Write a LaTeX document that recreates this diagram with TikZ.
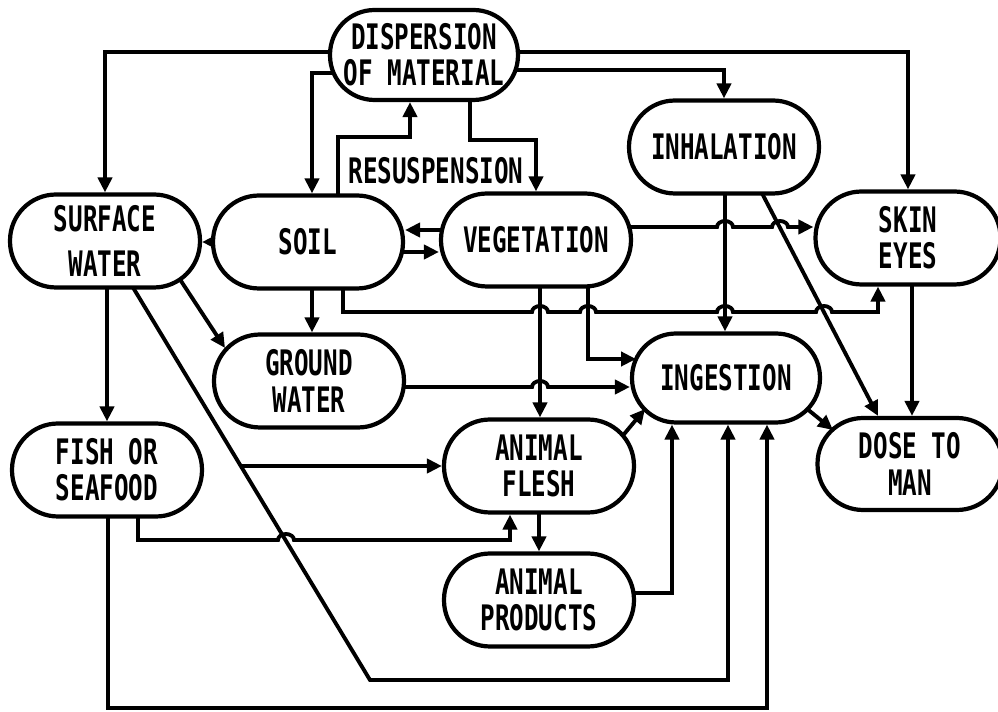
\documentclass[tikz,border=0pt]{standalone}
\usepackage{fontspec}
\usetikzlibrary{arrows.meta,calc}
\newfontfamily\chartfont{DejaVu Sans Mono}[FakeStretch=0.69]
\pgfdeclarelayer{bg}
\pgfsetlayers{bg,main}
\tikzset{stage/.style={draw,line width=2.4pt,rounded corners=0.92cm,fill=white,
  minimum width=3.8cm,minimum height=1.86cm,inner sep=0pt,align=center},
  link/.style={-{Triangle[length=8.5pt,width=8pt]},line width=2.2pt}}
\newcommand{\hop}[2]{-- (#1-8,#2) arc[start angle=180,end angle=0,x radius=0.16cm,y radius=0.12cm]}

\begin{document}
\begin{tikzpicture}[x=0.02cm,y=-0.02cm,font=\chartfont\bfseries\fontsize{20}{20.7}\selectfont]
\useasboundingbox (0,0) rectangle (998,712);
\node[stage,minimum width=3.76cm,minimum height=1.8cm,rounded corners=0.89cm] (disp) at (424,55) {DISPERSION\\OF MATERIAL};
\node[stage] (inh) at (724,147) {INHALATION};
\node[stage] (surf) at (105,241) {SURFACE\\[4.5pt]WATER};
\node[stage] (soil) at (308,242) {SOIL};
\node[stage] (veg) at (536,240) {VEGETATION};
\node[stage,minimum width=3.7cm] (skin) at (908,238) {SKIN\\EYES};
\node[stage] (gw) at (309,381) {GROUND\\WATER};
\node[stage,minimum width=3.76cm,minimum height=1.78cm,rounded corners=0.88cm] (ing) at (726,378) {INGESTION};
\node[stage] (fish) at (107,470) {FISH OR\\SEAFOOD};
\node[stage] (flesh) at (539,466) {ANIMAL\\FLESH};
\node[stage] (prod) at (539,600) {ANIMAL\\PRODUCTS};
\node[stage,minimum width=3.7cm,minimum height=1.84cm,rounded corners=0.91cm] (dose) at (910,464) {DOSE TO\\MAN};
\node (resus) at (436,171) {RESUSPENSION};
\coordinate (split) at (241,466);
\begin{pgfonlayer}{bg}
\fill[white] (0,0) rectangle (998,712);
\draw[link] (disp.center |- 0,52) -| (surf.north);
\draw[link] (disp.center |- 0,52) -| (skin.north);
\draw[link] (disp.center |- 0,73) -| (312,0 |- soil.north);
\draw[link] (disp.center |- 0,70) -| (inh.north);
\draw[link] (338,0 |- soil.center) -- (338,137) -| (410,0 |- disp.south);
\draw[link] (470,0 |- disp.center) -- (470,140) -| (veg.north);
\draw[link] (soil.center) -- (surf.east |- soil.center);
\draw[link] (veg.center |- 0,230) -- (soil.east |- 0,230);
\draw[link] (soil.center |- 0,252) -- (veg.west |- 0,252);
\draw[link] (312,0 |- soil.center) -- (312,0 |- gw.north);
\draw[link] (162,252) -- ($(gw)+(-84,-33)$);
\draw[link] (107,0 |- surf.center) -- (107,0 |- fish.north);
\draw[link] (114,256) -- (370,680) -| (728,0 |- ing.south);
\draw[link] (split) -- (flesh.west);
\draw[link] (138,0 |- fish.center) -- (138,540) \hop{286}{540} -| (510,0 |- flesh.south);
\draw[link] (108,0 |- fish.center) -- (108,708) -| (767,0 |- ing.south);
\draw[link] (540,0 |- veg.center) -- (540,0 |- flesh.north);
\draw[link] (588,0 |- veg.center) |- ($(ing)+(-90,-19)$);
\draw[link] (gw.center |- 0,387) \hop{540}{387} -- (ing.west |- 0,387);
\draw[link] (veg.center |- 0,227) \hop{725}{227} \hop{780}{227} -- (skin.west |- 0,227);
\draw[link] (343,0 |- soil.center) -- (343,312) \hop{540}{312} \hop{588}{312} \hop{725}{312} \hop{824}{312} -| (878,0 |- skin.south);
\draw[link] (725,0 |- inh.center) -- (725,0 |- ing.north);
\draw[link] (753,176) -- (878,0 |- dose.north);
\draw[link] (912,0 |- skin.center) -- (912,0 |- dose.north);
\draw[link] (790,395) -- ($(dose)+(-77,-34)$);
\draw[link] (605,457) -- ($(ing)+(-81,31)$);
\draw[link] (539,0 |- flesh.center) -- (539,0 |- prod.north);
\draw[link] (prod.center |- 0,593) -| (672,0 |- ing.south);
\end{pgfonlayer}
\end{tikzpicture}
\end{document}
